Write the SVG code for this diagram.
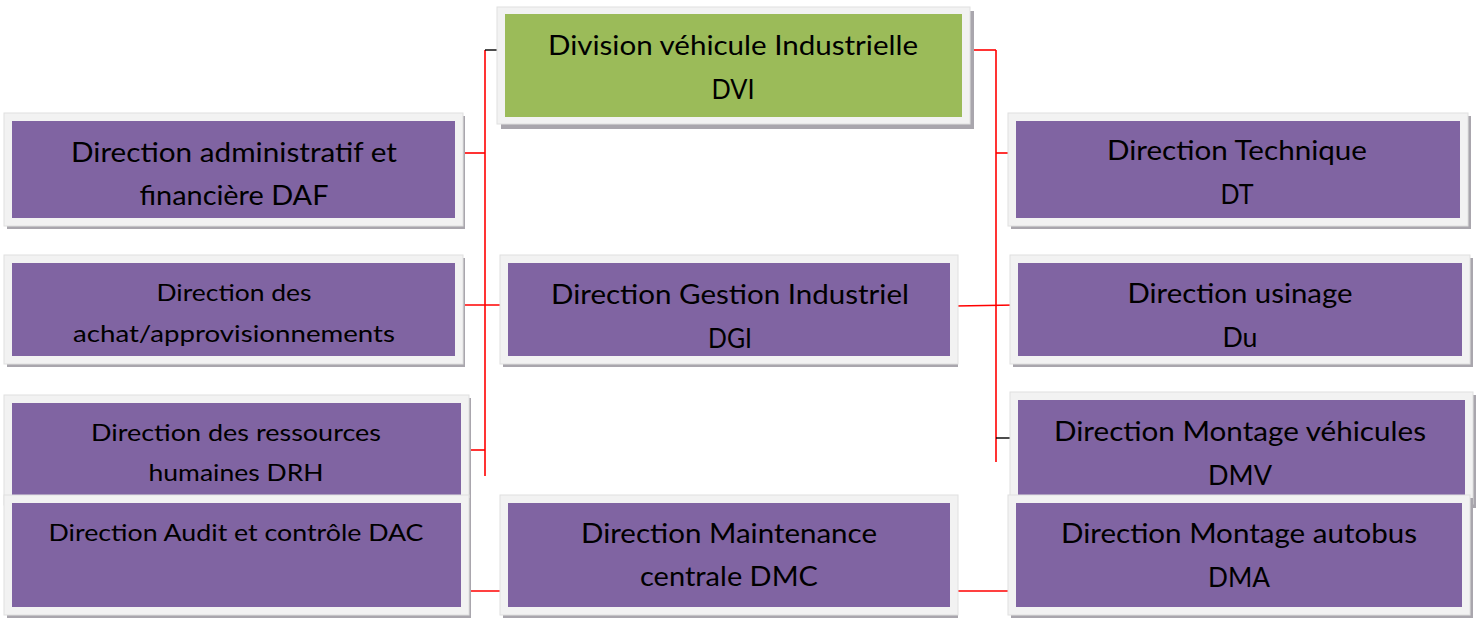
<svg xmlns="http://www.w3.org/2000/svg" width="1478" height="619" viewBox="0 0 1478 619">
  <style>
    .shadow { fill: #a9a6ad; }
    .frame { fill: #f2f2f2; stroke: #e0e0e0; stroke-width: 1; }
    .purple { fill: #8064a2; }
    .green { fill: #9bbb59; }
    .lbl { font-family: Lato, "Liberation Sans", sans-serif; font-size: 26px; fill: #000; text-anchor: middle; }
    .sm { font-size: 23px; }
    .red { stroke: #ff0000; stroke-width: 1.6; fill: none; }
    .blk { stroke: #000; stroke-width: 1.4; fill: none; }
  </style>

  <!-- connectors -->
  <g id="connectors">
    <line class="red" x1="485" y1="50" x2="485" y2="476"/>
    <line class="blk" x1="485" y1="50" x2="497" y2="50"/>
    <line class="red" x1="460" y1="153" x2="485" y2="153"/>
    <line class="red" x1="460" y1="305" x2="508" y2="305"/>
    <line class="red" x1="465" y1="450" x2="485" y2="450"/>
    <line class="red" x1="996" y1="50" x2="996" y2="462"/>
    <line class="red" x1="970" y1="50" x2="996" y2="50"/>
    <line class="red" x1="996" y1="153" x2="1016" y2="153"/>
    <line class="red" x1="955" y1="306" x2="1016" y2="305"/>
    <line class="blk" x1="996" y1="438" x2="1014" y2="438"/>
    <line class="red" x1="465" y1="591" x2="505" y2="591"/>
    <line class="red" x1="955" y1="591" x2="1015" y2="591"/>
  </g>

  <!-- Division véhicule Industrielle -->
  <g id="dvi">
    <rect class="shadow" x="501" y="11" width="473" height="118"/>
    <rect class="frame" x="497" y="7" width="473" height="117"/>
    <rect class="green" x="505" y="14" width="457" height="103"/>
    <text class="lbl" x="733" y="55" textLength="370" lengthAdjust="spacingAndGlyphs">Division véhicule Industrielle</text>
    <text class="lbl" x="733" y="99" textLength="43" lengthAdjust="spacingAndGlyphs">DVI</text>
  </g>

  <!-- left column -->
  <g id="daf">
    <rect class="shadow" x="7" y="116" width="458" height="113"/>
    <rect class="frame" x="4" y="113" width="459" height="113"/>
    <rect class="purple" x="12" y="121" width="443" height="97"/>
    <text class="lbl" x="234" y="162" textLength="326" lengthAdjust="spacingAndGlyphs">Direction administratif et</text>
    <text class="lbl" x="234" y="205" textLength="189" lengthAdjust="spacingAndGlyphs">financière DAF</text>
  </g>

  <g id="daa">
    <rect class="shadow" x="7" y="258" width="458" height="109"/>
    <rect class="frame" x="4" y="255" width="459" height="109"/>
    <rect class="purple" x="12" y="263" width="443" height="93"/>
    <text class="lbl sm" x="234" y="301" textLength="155" lengthAdjust="spacingAndGlyphs">Direction des</text>
    <text class="lbl sm" x="234" y="342" textLength="322" lengthAdjust="spacingAndGlyphs">achat/approvisionnements</text>
  </g>

  <g id="drh">
    <rect class="shadow" x="7" y="398" width="464" height="110"/>
    <rect class="frame" x="4" y="395" width="465" height="110"/>
    <rect class="purple" x="12" y="403" width="449" height="93"/>
    <text class="lbl sm" x="236" y="441" textLength="290" lengthAdjust="spacingAndGlyphs">Direction des ressources</text>
    <text class="lbl sm" x="236" y="481" textLength="175" lengthAdjust="spacingAndGlyphs">humaines DRH</text>
  </g>

  <g id="dac">
    <rect class="shadow" x="7" y="498" width="464" height="120"/>
    <rect class="frame" x="4" y="495" width="465" height="120"/>
    <rect class="purple" x="12" y="503" width="449" height="104"/>
    <text class="lbl sm" x="236" y="541" textLength="375" lengthAdjust="spacingAndGlyphs">Direction Audit et contrôle DAC</text>
  </g>

  <!-- middle column -->
  <g id="dgi">
    <rect class="shadow" x="503" y="258" width="455" height="109"/>
    <rect class="frame" x="500" y="255" width="458" height="109"/>
    <rect class="purple" x="508" y="263" width="442" height="93"/>
    <text class="lbl" x="730" y="304" textLength="358" lengthAdjust="spacingAndGlyphs">Direction Gestion Industriel</text>
    <text class="lbl" x="730" y="348" textLength="44" lengthAdjust="spacingAndGlyphs">DGI</text>
  </g>

  <g id="dmc">
    <rect class="shadow" x="503" y="498" width="455" height="120"/>
    <rect class="frame" x="500" y="495" width="458" height="120"/>
    <rect class="purple" x="508" y="503" width="442" height="104"/>
    <text class="lbl" x="729" y="543" textLength="296" lengthAdjust="spacingAndGlyphs">Direction Maintenance</text>
    <text class="lbl" x="729" y="586" textLength="178" lengthAdjust="spacingAndGlyphs">centrale DMC</text>
  </g>

  <!-- right column -->
  <g id="dt">
    <rect class="shadow" x="1011" y="116" width="460" height="113"/>
    <rect class="frame" x="1008" y="113" width="460" height="113"/>
    <rect class="purple" x="1016" y="121" width="444" height="97"/>
    <text class="lbl" x="1237" y="160" textLength="260" lengthAdjust="spacingAndGlyphs">Direction Technique</text>
    <text class="lbl" x="1237" y="204" textLength="33" lengthAdjust="spacingAndGlyphs">DT</text>
  </g>

  <g id="du">
    <rect class="shadow" x="1013" y="258" width="460" height="109"/>
    <rect class="frame" x="1010" y="255" width="460" height="109"/>
    <rect class="purple" x="1018" y="263" width="444" height="93"/>
    <text class="lbl" x="1240" y="303" textLength="225" lengthAdjust="spacingAndGlyphs">Direction usinage</text>
    <text class="lbl" x="1240" y="347" textLength="35" lengthAdjust="spacingAndGlyphs">Du</text>
  </g>

  <g id="dmv">
    <rect class="shadow" x="1013" y="395" width="463" height="113"/>
    <rect class="frame" x="1010" y="392" width="463" height="112"/>
    <rect class="purple" x="1018" y="400" width="447" height="96"/>
    <text class="lbl" x="1240" y="441" textLength="372" lengthAdjust="spacingAndGlyphs">Direction Montage véhicules</text>
    <text class="lbl" x="1240" y="485" textLength="64" lengthAdjust="spacingAndGlyphs">DMV</text>
  </g>

  <g id="dma">
    <rect class="shadow" x="1011" y="498" width="462" height="120"/>
    <rect class="frame" x="1008" y="495" width="462" height="120"/>
    <rect class="purple" x="1016" y="503" width="446" height="104"/>
    <text class="lbl" x="1239" y="543" textLength="356" lengthAdjust="spacingAndGlyphs">Direction Montage autobus</text>
    <text class="lbl" x="1239" y="587" textLength="62" lengthAdjust="spacingAndGlyphs">DMA</text>
  </g>
</svg>
